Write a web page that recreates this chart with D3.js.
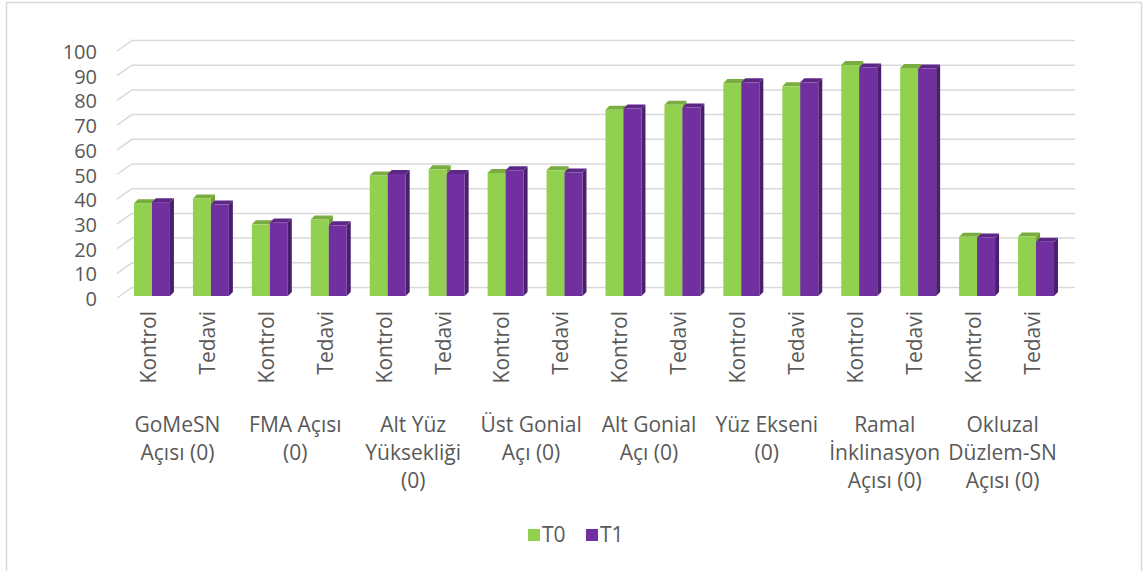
<!DOCTYPE html>
<html>
<head>
<meta charset="utf-8">
<script src="https://cdn.jsdelivr.net/npm/d3@7"></script>
<style>
  body { margin: 0; background: #fff; }
  text { font-family: "Open Sans", sans-serif; fill: #595959; font-size: 21px; }
</style>
</head>
<body>
<div id="chart"></div>
<script>
// group labels (wrapped as in the original), sub labels and series values
const groupLabels = [
  ['GoMeSN', 'Açısı (0)'],
  ['FMA Açısı', '(0)'],
  ['Alt Yüz', 'Yüksekliği', '(0)'],
  ['Üst Gonial', 'Açı (0)'],
  ['Alt Gonial', 'Açı (0)'],
  ['Yüz Ekseni', '(0)'],
  ['Ramal', 'İnklinasyon', 'Açısı (0)'],
  ['Okluzal', 'Düzlem-SN', 'Açısı (0)']
];
const subLabels = ['Kontrol', 'Tedavi'];
const seriesNames = ['T0', 'T1'];
const t0 = [37.6, 39.5, 29.0, 31.0, 48.8, 51.3, 49.8, 50.9,
  75.4, 77.4, 86.2, 84.9, 93.5, 92.3, 24.0, 24.1];
const t1 = [38.0, 37.0, 29.8, 28.6, 49.4, 49.4, 50.9, 50.0,
  75.9, 76.3, 86.5, 86.5, 92.5, 92.1, 23.7, 22.0];
const yTicks = [0, 10, 20, 30, 40, 50, 60, 70, 80, 90, 100];

const width = 1144;
const height = 571;

const svg = d3.select('#chart')
    .append('svg')
    .attr('width', width)
    .attr('height', height);

// chart border
svg.append('rect')
    .attr('x', 6.5).attr('y', 2.5)
    .attr('width', 1135).attr('height', 580)
    .attr('fill', 'none')
    .attr('stroke', '#d9d9d9')
    .attr('stroke-width', 1.5);

// flat list of 16 bars: group/sub index
const items = [];
groupLabels.forEach((g, gi) => {
  subLabels.forEach((s, si) => {
    items.push({key: gi + '-' + si, group: gi, sub: s,
      v: [t0[gi * 2 + si], t1[gi * 2 + si]]});
  });
});

// bar plane scales
const y = d3.scaleLinear().domain([0, 100]).range([296, 49]);
const x = d3.scaleBand()
    .domain(items.map((d) => d.key))
    .range([122.5, 1065.5])
    .paddingInner(0.39)
    .paddingOuter(0.195);
const xs = d3.scaleBand().domain(seriesNames).range([0, x.bandwidth()]);

// depth offsets for the fake 3d
const frontOff = {dx: -7, dy: 2};
const backOff = {dx: 8, dy: -8.5};
const topOff = {dx: 4, dy: -4};

// gridlines: floor diagonal + back wall
const grid = svg.append('g')
    .attr('stroke', '#d9d9d9')
    .attr('stroke-width', 1.5)
    .attr('fill', 'none');
yTicks.forEach((t) => {
  const yy = y(t);
  grid.append('path')
      .attr('d', `M${117},${yy + frontOff.dy} L${132},${yy + backOff.dy} ` +
        `L${1075},${yy + backOff.dy}`);
});

// y labels
svg.append('g').selectAll('text')
    .data(yTicks)
    .join('text')
    .attr('x', 97)
    .attr('y', (d) => y(d) + frontOff.dy + 8)
    .attr('text-anchor', 'end')
    .style('font-size', '20px')
    .text((d) => d);

const colors = {
  T0: {front: '#92d050', top: '#7aad3f', side: '#6f9e38'},
  T1: {front: '#7030a0', top: '#5d2787', side: '#4a1f6b'}
};

// bars: draw per item, T0 then T1 so T1 covers T0 side
const bars = svg.append('g');
items.forEach((d) => {
  seriesNames.forEach((s, si) => {
    const x0 = x(d.key) + xs(s);
    const w = xs.bandwidth();
    const y0 = y(0);
    const y1 = y(d.v[si]);
    const c = colors[s];
    const g = bars.append('g');
    // side face
    g.append('path')
        .attr('d', `M${x0 + w},${y1} L${x0 + w + topOff.dx},${y1 + topOff.dy} ` +
          `L${x0 + w + topOff.dx},${y0 + topOff.dy} L${x0 + w},${y0} Z`)
        .attr('fill', c.side);
    // top face
    g.append('path')
        .attr('d', `M${x0},${y1} L${x0 + topOff.dx},${y1 + topOff.dy} ` +
          `L${x0 + w + topOff.dx},${y1 + topOff.dy} L${x0 + w},${y1} Z`)
        .attr('fill', c.top);
    // front face
    g.append('rect')
        .attr('x', x0).attr('y', y1)
        .attr('width', w).attr('height', y0 - y1)
        .attr('fill', c.front);
  });
});

// rotated sub labels
svg.append('g').selectAll('text')
    .data(items)
    .join('text')
    .attr('transform', (d) =>
      `translate(${x(d.key) + x.bandwidth() / 2 - 3.5},311) rotate(-90)`)
    .attr('text-anchor', 'end')
    .attr('dy', '0.35em')
    .text((d) => d.sub);

// group labels
const gl = svg.append('g').selectAll('text')
    .data(groupLabels)
    .join('text')
    .attr('text-anchor', 'middle')
    .attr('x', (d, i) => {
      const a = x(i + '-0') + x.bandwidth() / 2;
      const b = x(i + '-1') + x.bandwidth() / 2;
      return (a + b) / 2 - 4;
    })
    .attr('y', 432);
gl.each(function(lines) {
  const t = d3.select(this);
  const cx = t.attr('x');
  lines.forEach((ln, li) => {
    t.append('tspan')
        .attr('x', cx)
        .attr('y', 432 + li * 28)
        .text(ln);
  });
});

// legend
const legend = svg.append('g');
const legendX = [528, 586];
seriesNames.forEach((s, i) => {
  legend.append('rect')
      .attr('x', legendX[i]).attr('y', 529)
      .attr('width', 12).attr('height', 12)
      .attr('fill', colors[s].front);
  legend.append('text')
      .attr('x', legendX[i] + 14)
      .attr('y', 542)
      .text(s);
});
</script>
</body>
</html>
